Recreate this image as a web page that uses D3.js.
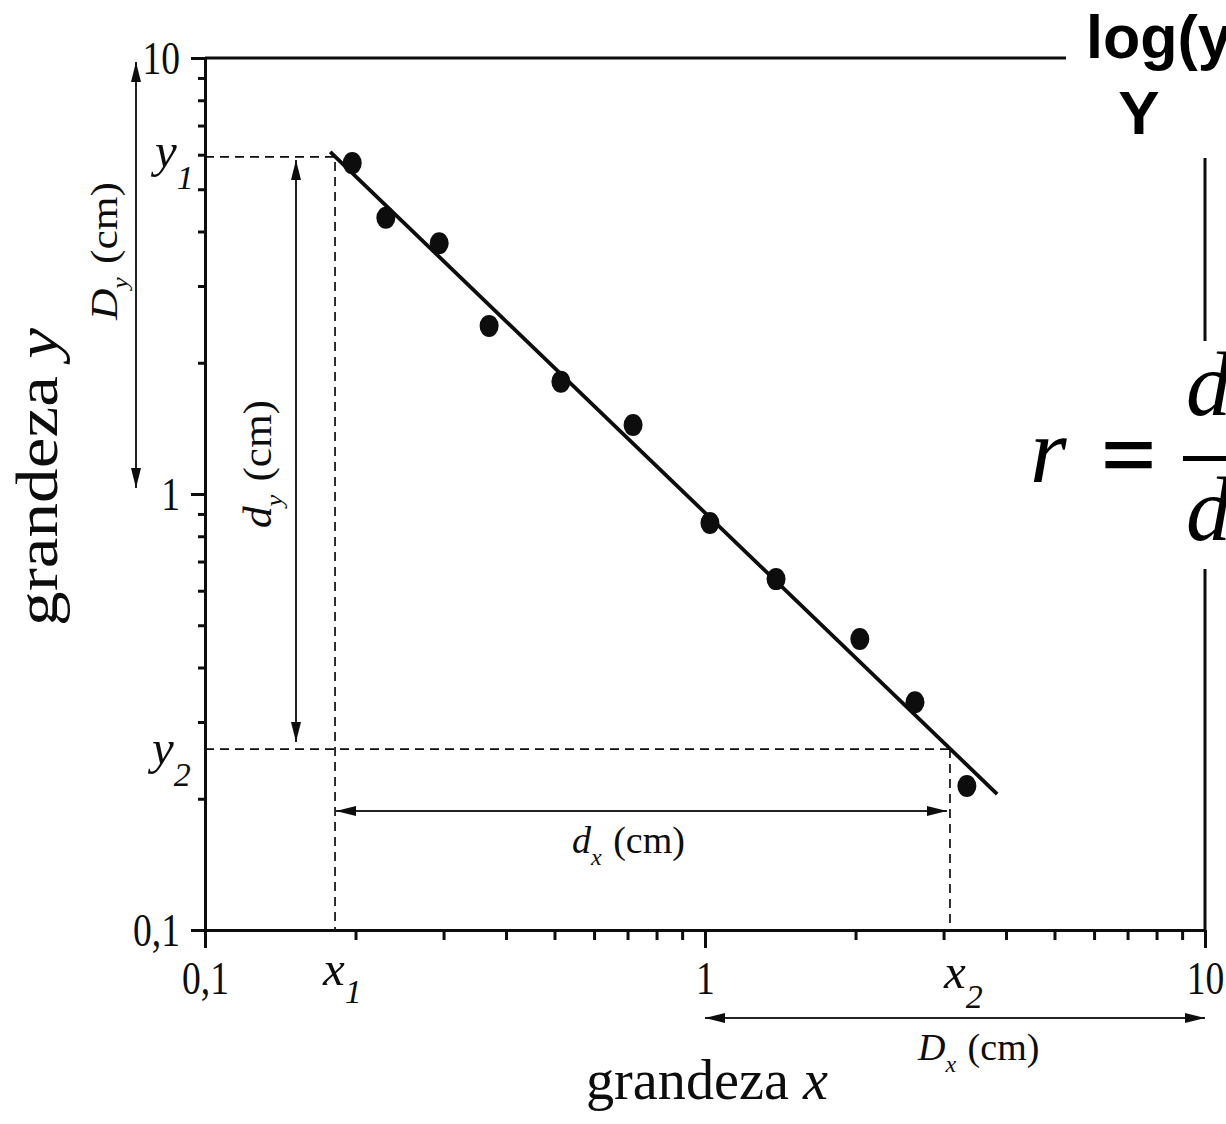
<!DOCTYPE html>
<html>
<head>
<meta charset="utf-8">
<script src="https://cdn.jsdelivr.net/npm/d3@7"></script>
<style>
  html, body { margin: 0; padding: 0; background: #fff; overflow: hidden; }
</style>
</head>
<body>
<svg id="chart" width="1226" height="1124"></svg>
<script>
// ---- data -------------------------------------------------------------
const xTickValues = [0.1, 1, 10];
const xTickLabels = ["0,1", "1", "10"];
const yTickValues = [0.1, 1, 10];
const yTickLabels = ["0,1", "1", "10"];
const minorTicks = [0.2, 0.3, 0.4, 0.5, 0.6, 0.7, 0.8, 0.9, 2, 3, 4, 5, 6, 7, 8, 9];

// measured pairs (grandeza x, grandeza y)
const pointX = [0.197, 0.230, 0.294, 0.370, 0.515, 0.718, 1.023, 1.387, 2.04, 2.63, 3.34];
const pointY = [5.74, 4.30, 3.76, 2.43, 1.81, 1.44, 0.858, 0.638, 0.465, 0.333, 0.214];

// fitted straight line (end points)
const fitX = [0.178, 3.84];
const fitY = [6.09, 0.205];

// two points read on the line: (x1, y1) and (x2, y2)
const readX = [0.182, 3.09];
const readY = [5.93, 0.260];

// ---- setup ------------------------------------------------------------
const svg = d3.select("#chart");
const x = d3.scaleLog().domain([0.1, 10]).range([205, 1205]);
const y = d3.scaleLog().domain([0.1, 10]).range([930, 58]);

const serif = "'Liberation Serif', 'Times New Roman', serif";
const sans = "'Liberation Sans', Arial, sans-serif";
const ink = "#0d0d0d";

// arrow head
svg.append("defs").append("marker")
  .attr("id", "head")
  .attr("markerUnits", "userSpaceOnUse")
  .attr("viewBox", "0 0 20 10")
  .attr("markerWidth", 20).attr("markerHeight", 10)
  .attr("refX", 20).attr("refY", 5)
  .attr("orient", "auto-start-reverse")
  .append("path").attr("d", "M0,0 L20,5 L0,10 Z").attr("fill", ink);

// ---- frame (top and right) ---------------------------------------------
svg.append("line")
  .attr("x1", x(0.1)).attr("x2", x(10))
  .attr("y1", y(10)).attr("y2", y(10))
  .attr("stroke", ink).attr("stroke-width", 3);
svg.append("line")
  .attr("x1", x(10)).attr("x2", x(10))
  .attr("y1", y(10)).attr("y2", y(0.1))
  .attr("stroke", ink).attr("stroke-width", 3);

// ---- axes ---------------------------------------------------------------
function squeeze(sel, k) {
  sel.selectAll("text").each(function () {
    const w = this.getComputedTextLength();
    d3.select(this).attr("textLength", w * k).attr("lengthAdjust", "spacingAndGlyphs");
  });
}

const gxMinor = svg.append("g")
  .attr("transform", `translate(0,${y(0.1)})`)
  .call(d3.axisBottom(x).tickValues(minorTicks).tickSize(10).tickSizeOuter(0).tickFormat(""));
gxMinor.select(".domain").remove();

const gx = svg.append("g")
  .attr("transform", `translate(0,${y(0.1)})`)
  .call(d3.axisBottom(x).tickValues(xTickValues).tickSize(18).tickSizeOuter(0)
    .tickPadding(13).tickFormat((d, i) => xTickLabels[i]));

const gyMinor = svg.append("g")
  .attr("transform", `translate(${x(0.1)},0)`)
  .call(d3.axisLeft(y).tickValues(minorTicks).tickSize(7).tickSizeOuter(0).tickFormat(""));
gyMinor.select(".domain").remove();

const gy = svg.append("g")
  .attr("transform", `translate(${x(0.1)},0)`)
  .call(d3.axisLeft(y).tickValues(yTickValues).tickSize(14).tickSizeOuter(0)
    .tickPadding(11).tickFormat((d, i) => yTickLabels[i]));

[gxMinor, gx, gyMinor, gy].forEach(g => {
  g.attr("color", ink);
  g.selectAll("line").attr("stroke-width", 3);
  g.selectAll(".domain").attr("stroke-width", 3);
});
[gx, gy].forEach(g => {
  g.attr("font-family", serif).attr("font-size", 47);
  g.selectAll("text").attr("fill", ink);
  squeeze(g, 0.8);
});

// ---- reading guides (dashed) ------------------------------------------
const dash = "9,6";
svg.append("path")
  .attr("d", `M${x(0.1)},${y(readY[0])} H${x(readX[0])} V${y(0.1)}`)
  .attr("fill", "none").attr("stroke", ink).attr("stroke-width", 1.7).attr("stroke-dasharray", dash);
svg.append("path")
  .attr("d", `M${x(0.1)},${y(readY[1])} H${x(readX[1])}`)
  .attr("fill", "none").attr("stroke", ink).attr("stroke-width", 1.7).attr("stroke-dasharray", dash);
svg.append("path")
  .attr("d", `M${x(readX[1])},${y(readY[1])} V${y(0.1)}`)
  .attr("fill", "none").attr("stroke", ink).attr("stroke-width", 1.7).attr("stroke-dasharray", dash);

// ---- fit line and points ------------------------------------------------
svg.append("line")
  .attr("x1", x(fitX[0])).attr("y1", y(fitY[0]))
  .attr("x2", x(fitX[1])).attr("y2", y(fitY[1]))
  .attr("stroke", ink).attr("stroke-width", 3.8);

svg.append("g").selectAll("ellipse")
  .data(pointX.map((v, i) => [v, pointY[i]]))
  .join("ellipse")
  .attr("cx", d => x(d[0])).attr("cy", d => y(d[1]))
  .attr("rx", 9.5).attr("ry", 11)
  .attr("fill", ink);

// ---- dimension arrows ---------------------------------------------------
function arrow(x1, y1, x2, y2) {
  svg.append("line")
    .attr("x1", x1).attr("y1", y1).attr("x2", x2).attr("y2", y2)
    .attr("stroke", "#222").attr("stroke-width", 2)
    .attr("marker-start", "url(#head)").attr("marker-end", "url(#head)");
}
arrow(136, y(10) + 4, 136, y(1) - 6);                                   // D_y
arrow(296, y(readY[0]) + 3, 296, y(readY[1]) - 7);                      // d_y
arrow(x(readX[0]) + 1, 811, x(readX[1]) - 3, 811);                      // d_x
arrow(x(1), 1018, x(10), 1018);                                          // D_x

// ---- labels -------------------------------------------------------------
function labelWithSub(px, py, main, sub, size, subSize, shift, opts = {}) {
  const t = svg.append("text")
    .attr("font-family", serif).attr("font-size", size).attr("fill", ink)
    .attr("x", px).attr("y", py);
  if (opts.rotate) t.attr("transform", `rotate(-90,${px},${py})`);
  t.append("tspan").attr("font-style", "italic").text(main);
  t.append("tspan").attr("font-style", "italic").attr("font-size", subSize)
    .attr("dy", shift).text(sub);
  if (opts.tail) {
    t.append("tspan").attr("dy", -shift).attr("dx", opts.gap || 0).text(opts.tail);
  }
  if (opts.length) t.attr("textLength", opts.length).attr("lengthAdjust", "spacingAndGlyphs");
  return t;
}

// point names on the axes
labelWithSub(155, y(readY[0]) + 10, "y", "1", 49, 34, 22);
labelWithSub(152, y(readY[1]) + 15, "y", "2", 49, 34, 22);
labelWithSub(x(readX[0]) - 12, 985, "x", "1", 49, 34, 18);
labelWithSub(x(readX[1]) - 6, 988, "x", "2", 49, 34, 20);

// arrow captions
labelWithSub(572, 853, "d", "x", 38, 24, 12, { tail: " (cm)", gap: 2 });
labelWithSub(918, 1060, "D", "x", 38, 24, 12, { tail: " (cm)", gap: 2 });
labelWithSub(117, 320, "D", "y", 37, 22, 10, { tail: " (cm)", gap: 2, rotate: true, length: 138 });
labelWithSub(271, 528, "d", "y", 39, 24, 11, { tail: " (cm)", gap: 2, rotate: true, length: 128 });

// axis titles
const xt = svg.append("text")
  .attr("x", 586).attr("y", 1099)
  .attr("font-family", serif).attr("font-size", 57).attr("fill", ink)
  .attr("textLength", 242).attr("lengthAdjust", "spacingAndGlyphs");
xt.append("tspan").text("grandeza ");
xt.append("tspan").attr("font-style", "italic").text("x");

const yt = svg.append("text")
  .attr("x", 0).attr("y", 0)
  .attr("transform", "translate(57,626) rotate(-90)")
  .attr("font-family", serif).attr("font-size", 59).attr("fill", ink)
  .attr("textLength", 298).attr("lengthAdjust", "spacingAndGlyphs");
yt.append("tspan").text("grandeza ");
yt.append("tspan").attr("font-style", "italic").text("y");

// ---- side notes over the frame -------------------------------------------
svg.append("rect").attr("x", 1066).attr("y", 0).attr("width", 160).attr("height", 158).attr("fill", "#fff");
svg.append("rect").attr("x", 1015).attr("y", 341).attr("width", 211).attr("height", 228).attr("fill", "#fff");

svg.append("text")
  .attr("x", 1086).attr("y", 58)
  .attr("font-family", sans).attr("font-weight", "bold").attr("font-size", 61).attr("fill", "#000")
  .text("log(y)");
svg.append("text")
  .attr("x", 1139).attr("y", 134).attr("text-anchor", "middle")
  .attr("font-family", sans).attr("font-weight", "bold").attr("font-size", 62).attr("fill", "#000")
  .text("Y");

const math = svg.append("g").attr("font-family", serif).attr("font-style", "italic").attr("fill", "#000");
math.append("text").attr("x", 1030).attr("y", 482).attr("font-size", 94).text("r");
math.append("text").attr("x", 1102).attr("y", 486).attr("font-size", 94)
  .attr("font-style", "normal").attr("stroke", "#000").attr("stroke-width", 2.5).text("=");
math.append("rect").attr("x", 1183).attr("y", 456).attr("width", 60).attr("height", 5);
math.append("text").attr("x", 1186).attr("y", 415).attr("font-size", 90).text("d");
math.append("text").attr("x", 1186).attr("y", 540).attr("font-size", 90).text("d");
</script>
</body>
</html>
